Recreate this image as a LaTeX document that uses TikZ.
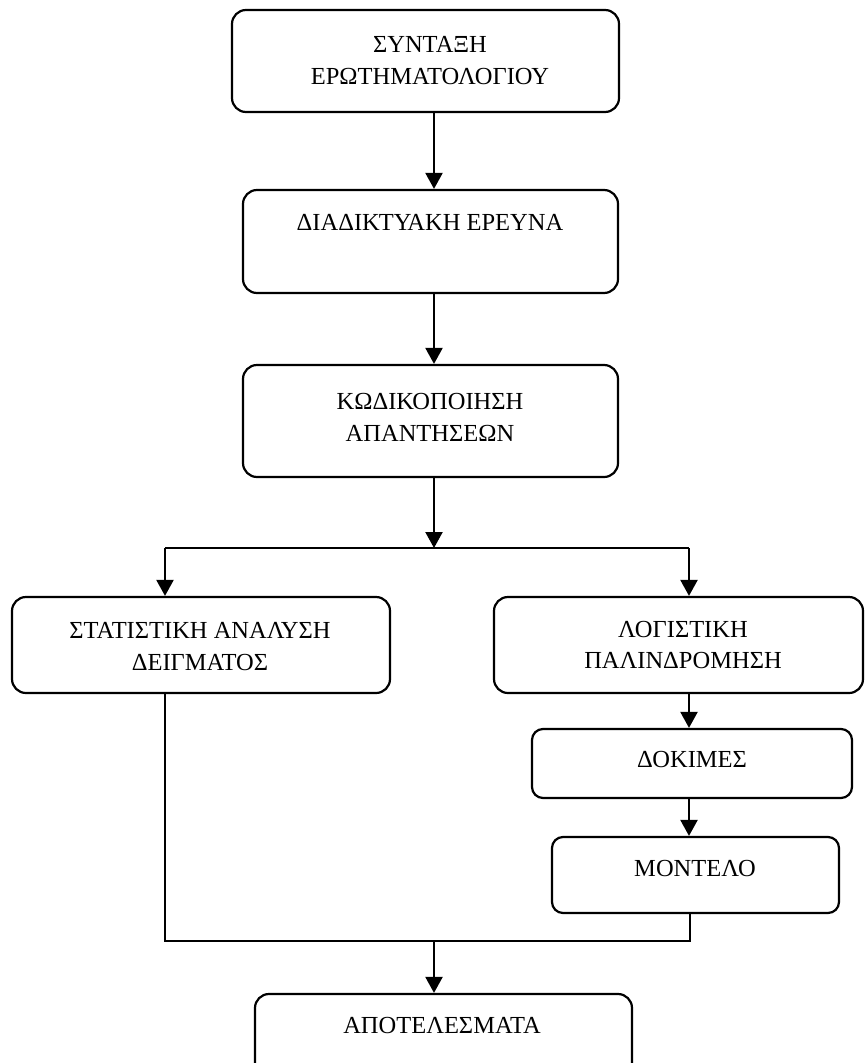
\documentclass[tikz,border=0pt]{standalone}
\usepackage{fontspec}
\setmainfont{Liberation Serif}
\usetikzlibrary{arrows.meta}
\begin{document}
\begin{tikzpicture}[x=1pt,y=-1pt,
  box/.style={draw,line width=2.2pt,rounded corners=14pt,inner sep=0pt},
  lbl/.style={align=center,font=\fontsize{24.5}{32}\selectfont,inner sep=0pt},
  arr/.style={line width=2.2pt,-{Triangle[length=16pt,width=17pt]}},
  ln/.style={line width=2.2pt}]
\useasboundingbox (0,0) rectangle (865,1063);
% boxes
\node[box,minimum width=387pt,minimum height=102pt] (b1) at (425.5,61) {};
\node[box,minimum width=375pt,minimum height=103pt] (b2) at (430.5,241.5) {};
\node[box,minimum width=375pt,minimum height=112pt] (b3) at (430.5,421) {};
\node[box,minimum width=378pt,minimum height=96pt] (b4) at (201,645) {};
\node[box,minimum width=369pt,minimum height=96pt] (b5) at (678.5,645) {};
\node[box,minimum width=320pt,minimum height=69pt,rounded corners=11pt] (b6) at (692,763.5) {};
\node[box,minimum width=287pt,minimum height=76pt,rounded corners=11pt] (b7) at (695.5,875) {};
\node[box,minimum width=377pt,minimum height=90pt] (b8) at (443.5,1039) {};
% texts
\node[lbl] (t1) at (430,61) {ΣΥΝΤΑΞΗ\\ΕΡΩΤΗΜΑΤΟΛΟΓΙΟΥ};
\node[lbl] (t2) at (430,222) {ΔΙΑΔΙΚΤΥΑΚΗ ΕΡΕΥΝΑ};
\node[lbl] (t3) at (430,417) {ΚΩΔΙΚΟΠΟΙΗΣΗ\\ΑΠΑΝΤΗΣΕΩΝ};
\node[lbl] (t4) at (200,647) {ΣΤΑΤΙΣΤΙΚΗ ΑΝΑΛΥΣΗ\\ΔΕΙΓΜΑΤΟΣ};
\node[lbl] (t5) at (683,645) {ΛΟΓΙΣΤΙΚΗ\\ΠΑΛΙΝΔΡΟΜΗΣΗ};
\node[lbl] (t6) at (692,759) {ΔΟΚΙΜΕΣ};
\node[lbl] (t7) at (695,868) {ΜΟΝΤΕΛΟ};
\node[lbl] (t8) at (442,1025) {ΑΠΟΤΕΛΕΣΜΑΤΑ};
% connectors
\coordinate (cx) at (434,0);
\coordinate (sp) at (434,548);
\coordinate (sl) at (165,548);
\coordinate (sr) at (689,548);
\coordinate (jl) at (165,941);
\coordinate (jr) at (690,941);
\coordinate (jm) at (434,941);
\draw[arr] (b1.south -| cx) -- (b2.north -| cx);
\draw[arr] (b2.south -| cx) -- (b3.north -| cx);
\draw[arr] (b3.south -| cx) -- (sp);
\draw[ln] (sl) -- (sr);
\draw[arr] (sl) -- (b4.north -| sl);
\draw[arr] (sr) -- (b5.north -| sr);
\draw[arr] (b5.south -| sr) -- (b6.north -| sr);
\draw[arr] (b6.south -| sr) -- (b7.north -| sr);
\draw[ln] (b4.south -| sl) -- (jl) -- (jr) -- (b7.south -| jr);
\draw[arr] (jm) -- (b8.north -| jm);
\end{tikzpicture}
\end{document}
